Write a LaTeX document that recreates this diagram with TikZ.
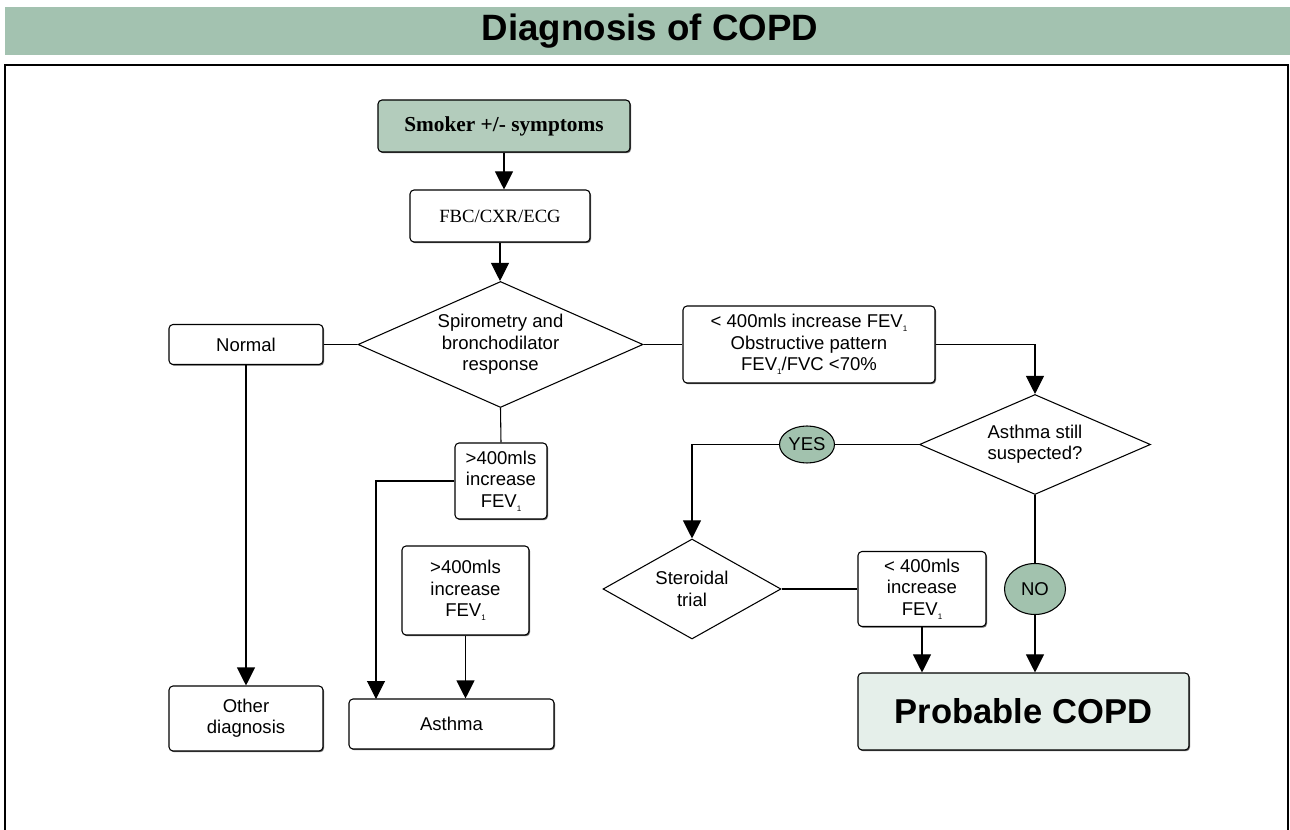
\documentclass[tikz,border=0pt]{standalone}
\usepackage{fontspec}
\setmainfont{Liberation Sans}
\newfontfamily\timesf{Liberation Serif}
\usetikzlibrary{shapes.geometric,arrows.meta,shadows}
\definecolor{bandgreen}{HTML}{A3C2B0}
\definecolor{smokergreen}{HTML}{B3CCBC}
\definecolor{circgreen}{HTML}{A2C2AE}
\definecolor{palegreen}{HTML}{E5EFEA}
\newcommand\lowone{\raisebox{-0.4ex}{\fontsize{6}{6}\selectfont 1}}
\tikzset{
  body/.style={font=\fontsize{13.9}{16}\selectfont, align=center},
  boxnode/.style={body, draw=black, line width=0.8pt, rounded corners=3pt, fill=white, inner sep=0pt,
     drop shadow={shadow xshift=0.8pt, shadow yshift=-0.9pt, fill=black!60, opacity=1}},
  dia/.style={body, diamond, draw=black, line width=0.8pt, fill=white, inner sep=0pt},
  oval/.style={body, ellipse, draw=black, line width=0.8pt, fill=circgreen, inner sep=0pt},
  conn/.style={line width=0.8pt, draw=black},
  arr/.style={conn, -{Triangle[width=13.5pt,length=13.5pt]}},
}
\begin{document}
\begin{tikzpicture}[x=0.75pt,y=-0.75pt]
\useasboundingbox (0,0) rectangle (1290,830);
% title band
\fill[bandgreen] (5,7) rectangle (1290,55);
\node (title) at (650,31) {\fontsize{27.5}{30}\selectfont\bfseries Diagnosis of COPD};
% frame
\draw[line width=0.8pt] (5,830) -- (5,65) -- (1288,65) -- (1288,830);

% nodes
\node[boxnode, fill=smokergreen, minimum width=189pt, minimum height=39pt] (smoker) at (504,126)
  {\timesf\bfseries\fontsize{16}{18}\selectfont Smoker +/- symptoms};
\node[boxnode, minimum width=135pt, minimum height=39pt] (fbc) at (500,216)
  {\timesf\fontsize{14}{16}\selectfont FBC/CXR/ECG};
\node[dia, aspect=2.26, minimum width=213.75pt, minimum height=94.5pt] (spiro) at (500.5,344.5)
  {Spirometry and\\bronchodilator\\response};
\node[boxnode, minimum width=115.5pt, minimum height=30pt] (normal) at (246,344.5) {Normal};
\node[boxnode, minimum width=115.5pt, minimum height=48.75pt] (other) at (246,718.5) {Other\\diagnosis};
\node[boxnode, minimum width=69pt, minimum height=57pt] (box1) at (501,481) {>400mls\\increase\\FEV\lowone};
\node[boxnode, minimum width=95.25pt, minimum height=66.75pt] (box2) at (465.5,590.5) {>400mls\\increase\\FEV\lowone};
\node[boxnode, minimum width=153.75pt, minimum height=37.5pt] (asthma) at (451.5,724) {Asthma};
\node[boxnode, minimum width=189pt, minimum height=57.75pt] (obstr) at (809,344.5)
  {< 400mls increase FEV\lowone\\Obstructive pattern\\FEV\lowone/FVC <70\%};
\node[dia, aspect=2.31, minimum width=173.25pt, minimum height=75pt] (asthq) at (1035,444.5) {Asthma still\\suspected?};
\node[oval, minimum width=41.25pt, minimum height=27.75pt] (yes) at (807,444.5) {YES};
\node[dia, aspect=1.78, minimum width=133.5pt, minimum height=75pt] (steroid) at (692,589) {Steroidal\\trial};
\node[boxnode, minimum width=96pt, minimum height=56.25pt] (box3) at (922,589) {< 400mls\\increase\\FEV\lowone};
\node[oval, minimum width=45.75pt, minimum height=38.25pt] (no) at (1035,589) {NO};
\node[boxnode, fill=palegreen, minimum width=248.25pt, minimum height=57.75pt] (prob) at (1023.5,711.5)
  {\fontsize{25.9}{28}\selectfont\bfseries Probable COPD};

\coordinate (asthL) at (376,699);

% connectors
\draw[arr] (smoker.south) -- (smoker.south |- fbc.north);
\draw[arr] (fbc.south) -- (fbc.south |- spiro.north);
\draw[conn] (normal.east) -- (spiro.west);
\draw[arr] (normal.south) -- (other.north);
\draw[conn] (spiro.south) -- (box1.north);
\draw[arr] (box1.west) -| (asthL);
\draw[arr] (box2.south) -- (box2.south |- asthma.north);
\draw[conn] (spiro.east) -- (obstr.west);
\draw[arr] (obstr.east) -| (asthq.north);
\draw[conn] (asthq.west) -- (yes.east);
\draw[arr] (yes.west) -| (steroid.north);
\draw[conn] (steroid.east) -- (box3.west);
\draw[arr] (box3.south) -- (box3.south |- prob.north);
\draw[conn] (asthq.south) -- (no.north);
\draw[arr] (no.south) -- (no.south |- prob.north);
\end{tikzpicture}
\end{document}
